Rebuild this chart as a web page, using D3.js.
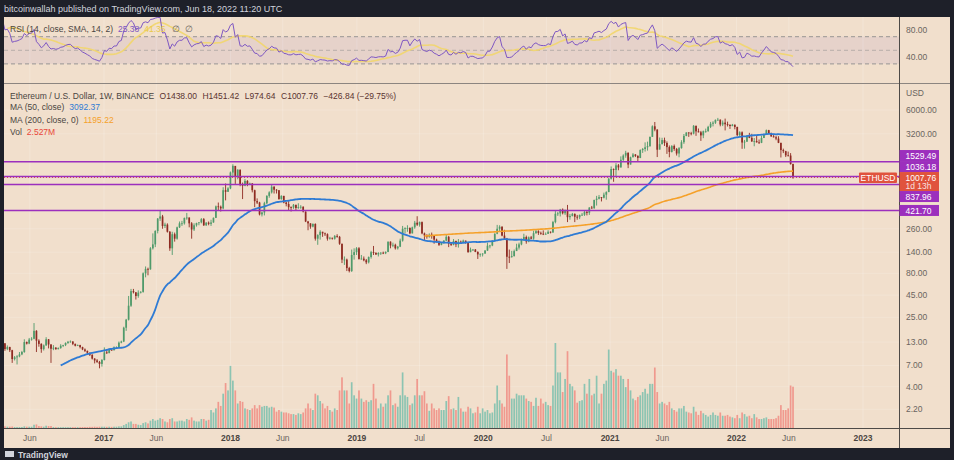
<!DOCTYPE html>
<html><head><meta charset="utf-8">
<script src="https://cdn.jsdelivr.net/npm/d3@7"></script>
<style>html,body{margin:0;padding:0;background:#1e2029;overflow:hidden}svg{display:block}</style>
</head><body>
<svg id="c" width="954" height="460"></svg>
<script>
// ---------- DATA (weekly bars, ETH/USD, weeks starting Monday 2015-09-21) ----------
const firstWeek = "2015-09-21";
const firstOpen = 0.90;
const closes = [
0.73,0.69,0.62,0.52,0.57,0.90,1.00,0.92,0.95,0.88,0.84,0.86,0.90,0.88,0.95,
0.95,1.25,1.60,2.40,2.60,5.00,4.50,6.80,10.00,11.50,12.60,10.80,11.40,10.50,8.30,8.70,8.90,9.40,10.00,13.00,12.50,13.90,14.20,17.50,13.50,12.40,10.80,11.90,14.00,12.20,10.90,11.20,10.80,11.10,11.80,12.00,12.70,13.10,13.20,12.40,11.80,12.00,11.40,10.70,10.30,9.80,9.30,8.40,8.00,7.70,7.30,8.10,
9.90,9.70,10.60,10.50,11.30,11.30,12.80,13.20,19.00,23.50,34.00,50.00,48.50,44.00,48.00,49.00,80.00,90.00,89.00,155,172,245,340,360,280,290,240,155,225,200,270,300,300,345,350,300,255,285,302,308,335,285,305,296,307,347,470,465,445,720,690,756,
1150,1370,1050,1240,830,810,920,840,860,720,540,520,380,400,510,620,680,790,730,720,570,620,520,500,460,455,490,450,460,465,410,315,300,275,295,200,220,240,230,225,200,205,200,215,210,175,115,115,92,85,130,140,155,
117,118,113,107,123,140,137,132,137,138,136,141,185,167,170,155,162,190,260,265,265,230,270,305,290,310,230,218,210,222,215,195,185,170,180,190,210,175,170,188,172,185,182,190,183,140,150,150,141,132,134,135,
146,166,167,189,228,260,274,217,200,124,123,126,144,158,172,197,209,186,207,200,231,244,233,228,227,227,240,236,310,386,390,432,392,428,353,365,385,357,352,375,377,406,396,455,448,557,575,600,590,640,685,975,
1260,1230,1390,1315,1610,1800,1935,1420,1720,1850,1785,1690,2080,2140,2240,2310,2950,3900,3580,2100,2430,2710,2510,2250,1980,2320,2140,1900,2190,2560,3020,3310,3240,3220,3950,3410,3330,3065,3420,3420,3840,4170,4290,4620,4640,4090,4300,4120,4060,3930,4070,3830,
3090,3330,2540,2600,3030,2870,2620,2640,2550,2520,2860,3140,3520,3260,2990,2920,2820,2520,2080,2020,1810,1800,1434.60,1007.76];
const highs = [
0.92,0.75,0.70,0.63,0.60,1.05,1.10,1.02,0.98,0.96,0.90,0.88,0.93,0.92,0.97,
0.98,1.30,1.65,2.50,2.80,5.60,5.20,7.00,11.00,13.50,15.00,12.60,11.90,11.50,10.60,9.00,9.20,10.00,10.30,14.00,13.20,14.50,14.80,21.50,17.80,14.00,12.60,12.20,14.80,14.10,12.30,12.00,11.40,11.30,12.30,12.10,12.90,13.40,13.60,13.30,12.50,12.20,12.10,11.50,11.00,10.40,9.90,9.40,8.50,8.30,7.90,8.30,
11.30,10.60,11.00,10.80,11.60,11.60,13.20,13.50,19.50,24.00,44.00,53.00,53.00,48.50,51.00,50.00,82.00,96.00,93.00,160,230,250,345,420,375,305,300,245,240,235,275,315,320,350,395,350,310,300,305,310,345,345,310,315,330,350,480,520,480,780,860,780,
1180,1430,1360,1250,1240,880,970,940,880,870,730,580,530,410,530,630,700,830,800,740,720,630,620,530,540,470,500,490,510,485,470,410,320,300,300,300,225,250,240,235,230,210,205,220,225,215,175,125,118,95,150,155,160,
160,130,125,117,125,145,165,140,140,140,142,143,185,186,180,175,165,200,280,270,285,270,275,320,362,315,315,235,225,230,235,215,200,190,182,192,225,215,182,198,190,198,190,195,190,183,158,152,152,143,135,136,
148,180,170,191,230,288,285,278,253,204,150,145,150,175,180,200,228,217,212,215,247,253,250,241,249,236,250,242,320,415,405,440,445,430,488,385,395,390,375,378,395,420,415,460,475,560,620,635,600,675,700,1000,
1350,1280,1475,1440,1760,1860,2040,1960,1750,1920,1870,1810,2120,2200,2550,2600,2970,4000,4370,3600,2900,2880,2890,2620,2350,2370,2410,2200,2250,2700,3180,3330,3335,3370,4030,3970,3680,3450,3480,3670,3950,4380,4460,4670,4870,4680,4550,4780,4410,4090,4150,4080,
3860,3420,3410,2720,3080,3280,3200,2860,3040,2750,3050,3200,3580,3550,3300,3190,3030,3000,2520,2160,2040,2000,1920,1451.42];
const lows = [
0.70,0.65,0.60,0.42,0.45,0.56,0.85,0.88,0.88,0.85,0.82,0.82,0.84,0.85,0.86,
0.92,0.94,1.20,1.55,2.20,2.55,3.90,4.40,6.50,9.20,10.60,10.30,10.50,10.00,7.50,8.00,7.20,8.70,9.20,9.80,12.20,12.30,13.50,14.00,10.00,11.50,9.80,10.40,11.80,11.00,7.50,10.50,10.60,10.70,10.90,11.40,11.70,12.40,12.80,12.00,11.60,11.70,11.00,10.50,10.00,9.30,9.00,8.20,7.40,7.50,6.50,6.80,
8.00,9.50,9.70,10.40,10.40,10.90,11.20,12.60,13.00,17.50,23.00,33.00,47.00,40.00,42.00,47.00,48.00,72.00,76.00,88.00,150,160,230,320,260,265,235,145,130,185,195,265,280,290,330,270,200,245,275,285,300,280,280,285,280,305,345,425,410,435,550,690,
740,1050,850,960,800,570,800,800,840,680,460,500,370,360,370,500,590,660,660,660,560,560,510,470,420,410,440,420,440,440,400,310,250,260,270,190,170,195,210,215,190,195,195,195,205,170,105,100,85,82,83,115,130,
115,115,110,102,104,118,130,130,125,130,133,133,140,155,160,150,150,160,185,230,240,225,230,260,280,275,225,190,200,205,200,175,180,165,168,175,188,160,165,168,160,158,178,180,175,138,140,145,140,117,124,125,
134,145,155,164,186,225,245,213,198,90,105,121,125,145,150,168,190,175,182,197,195,228,221,222,220,224,227,230,233,300,365,360,380,375,310,330,360,310,330,335,365,365,370,375,440,440,480,565,535,580,560,685,
955,900,1050,1220,1310,1560,1700,1290,1420,1720,1730,1550,1680,1930,2000,2050,2270,2950,3420,1730,2150,2420,2320,1880,1720,1950,2040,1800,1720,2160,2450,3000,2950,3070,3150,3030,3320,2650,2850,3290,3390,3720,3890,4150,4520,3900,3920,3500,3880,3640,3900,3600,
2990,3000,2150,2160,2580,2850,2580,2300,2540,2450,2500,2880,3140,3170,2950,2900,2700,2500,1710,1920,1730,1760,1420,974.64];
const volumes = [ // millions
0.02,0.02,0.02,0.03,0.03,0.05,0.05,0.03,0.02,0.02,0.02,0.02,0.02,0.02,0.02,
0.02,0.03,0.04,0.05,0.05,0.08,0.07,0.08,0.12,0.15,0.16,0.10,0.08,0.08,0.09,0.06,0.06,0.06,0.06,0.10,0.08,0.08,0.08,0.20,0.22,0.12,0.10,0.08,0.14,0.12,0.12,0.06,0.05,0.05,0.05,0.05,0.05,0.05,0.05,0.05,0.05,0.05,0.05,0.06,0.06,0.06,0.07,0.07,0.08,0.07,0.08,0.08,
0.08,0.07,0.08,0.07,0.08,0.08,0.10,0.10,0.18,0.25,0.35,0.40,0.25,0.25,0.20,0.18,0.30,0.35,0.28,0.45,0.55,0.45,0.50,0.60,0.55,0.40,0.35,0.55,0.60,0.40,0.40,0.45,0.45,0.40,0.55,0.50,0.65,0.45,0.40,0.40,0.55,0.55,0.45,0.50,1.10,0.95,1.20,1.60,1.35,2.10,2.75,2.30,
3.80,2.90,2.30,1.50,1.65,1.60,1.20,1.15,1.10,1.20,1.40,1.20,1.40,1.30,1.35,1.35,1.25,1.30,1.25,1.00,1.10,1.00,0.95,0.95,0.90,0.85,0.85,0.80,0.90,0.85,0.95,1.20,1.50,1.20,1.10,2.10,2.00,1.65,1.50,1.20,1.35,1.10,1.00,1.20,1.10,2.30,3.10,2.30,2.30,1.50,2.80,2.00,1.80,
2.30,1.80,1.60,1.70,1.60,1.70,2.70,1.80,1.20,1.50,1.30,1.50,2.00,2.30,1.40,1.50,1.30,2.00,3.40,2.00,1.90,1.40,1.50,2.00,3.00,2.00,2.00,2.25,1.50,1.05,1.50,1.20,1.10,1.20,1.10,1.10,1.65,1.95,1.15,1.20,1.10,1.90,1.20,1.00,1.00,1.30,1.20,0.90,0.95,1.30,0.90,1.20,
1.00,1.10,0.90,0.95,1.50,2.60,1.70,1.50,1.30,4.50,3.20,1.80,1.80,2.10,2.00,2.00,2.00,1.80,1.65,1.60,1.35,1.85,1.35,1.80,1.50,1.60,1.40,1.35,2.60,5.20,3.40,3.40,2.20,3.00,4.70,2.70,2.55,2.30,1.55,1.65,1.70,2.70,2.10,3.00,2.00,2.10,3.20,1.50,2.10,2.70,2.90,4.80,
3.50,3.40,3.60,3.20,3.20,3.00,2.50,3.00,2.30,1.80,1.70,1.90,2.00,2.20,2.40,2.10,2.70,2.70,3.70,2.20,1.50,1.60,1.50,1.40,1.60,1.20,1.10,1.00,1.20,1.20,1.35,1.00,0.95,0.90,1.30,1.00,0.80,1.05,0.90,0.80,0.70,0.80,0.95,0.80,0.75,0.95,0.75,0.75,0.80,0.70,0.65,0.60,
0.80,0.60,0.95,0.85,0.70,0.75,0.60,0.85,0.65,0.55,0.55,0.60,0.65,0.55,0.55,0.55,0.60,0.75,1.40,1.10,1.10,1.20,2.60,2.527];

const lastBar = [1438.00, 1451.42, 974.64, 1007.76];   // O H L C shown in legend
const maLegend = [3092.37, 1195.22];
const volLegend = "2.527M";
const rsiLegend = 25.38;
const countdown = "1d 13h";
const levels = [1529.49, 1036.18, 837.96, 421.70];
const priceTicks = [6000, 3200, 260, 140, 80, 45, 25, 13, 7, 4, 2.2];
const rsiTicks = [80, 40];
const rsiBands = [70, 50, 30];
const xTickDates = ["2016-06-01","2017-01-01","2017-06-01","2018-01-01","2018-06-01","2019-01-01","2019-07-01","2020-01-01","2020-07-01","2021-01-01","2021-06-01","2022-01-01","2022-06-01","2023-01-01"];
const xTickLabels = ["Jun","2017","Jun","2018","Jun","2019","Jul","2020","Jul","2021","Jun","2022","Jun","2023"];

// ---------- LAYOUT ----------
const W = 954, H = 460;
const L = 4, R = 899, RSI_T = 17, RSI_B = 83.5, MAIN_T = 84, MAIN_B = 428;
const BG = "#f1dfcc", DARK = "#1e2029";
const UP = "#4f9a6a", DOWN = "#8e2b22";
const PURPLE = "#9c2fbd", RED = "#e0533d", BLUE = "#2f7bd4", ORANGE = "#f5a12a";
const FONT = "'Liberation Sans', Arial, sans-serif";

const svg = d3.select("#c");
svg.append("rect").attr("width", W).attr("height", H).attr("fill", DARK);
svg.append("rect").attr("x", L).attr("y", RSI_T).attr("width", 950 - L).attr("height", 448 - RSI_T).attr("fill", BG);

const defs = svg.append("defs");
defs.append("clipPath").attr("id", "clipMain").append("rect").attr("x", L).attr("y", MAIN_T).attr("width", R - L).attr("height", MAIN_B - MAIN_T);
defs.append("clipPath").attr("id", "clipRsi").append("rect").attr("x", L).attr("y", RSI_T).attr("width", R - L).attr("height", RSI_B - RSI_T);

const parse = d3.utcParse("%Y-%m-%d");
const start = parse(firstWeek);
const bars = closes.map((c, i) => ({
  d: d3.utcDay.offset(start, 7 * i),
  o: i === 0 ? firstOpen : (i === closes.length - 1 ? lastBar[0] : closes[i - 1]),
  h: highs[i], l: lows[i], c, v: volumes[i]
}));

const x = d3.scaleUtc().domain([parse("2017-01-01"), parse("2023-01-01")]).range([104, 863]);
const y = d3.scaleLog().domain([2.2, 6000]).range([409.3, 110]);
const yr = d3.scaleLinear().domain([0, 100]).range([84.3, 16.3]);
const yv = d3.scaleLinear().domain([0, d3.max(volumes)]).range([MAIN_B, 343]);

// ---------- grid ----------
const grid = svg.append("g");
xTickDates.forEach(s => {
  const gx = x(parse(s));
  grid.append("line").attr("x1", gx).attr("x2", gx).attr("y1", RSI_T).attr("y2", MAIN_B)
    .attr("stroke", "#ffffff").attr("stroke-opacity", 0.2);
});
priceTicks.forEach(v => {
  grid.append("line").attr("x1", L).attr("x2", R).attr("y1", y(v)).attr("y2", y(v))
    .attr("stroke", "#ffffff").attr("stroke-opacity", 0.16);
});

// ---------- RSI panel ----------
function rsiCalc(vals, n) {
  const out = new Array(vals.length).fill(null);
  let g = 0, l = 0;
  for (let i = 1; i <= n; i++) { const d = vals[i] - vals[i - 1]; if (d > 0) g += d; else l -= d; }
  g /= n; l /= n;
  out[n] = l === 0 ? 100 : 100 - 100 / (1 + g / l);
  for (let i = n + 1; i < vals.length; i++) {
    const d = vals[i] - vals[i - 1];
    g = (g * (n - 1) + Math.max(d, 0)) / n;
    l = (l * (n - 1) + Math.max(-d, 0)) / n;
    out[i] = l === 0 ? 100 : 100 - 100 / (1 + g / l);
  }
  return out;
}
function sma(vals, n) {
  return vals.map((v, i) => {
    if (i < n - 1) return null;
    const w = vals.slice(i - n + 1, i + 1);
    if (w.some(z => z === null)) return null;
    return d3.mean(w);
  });
}
const rsi = rsiCalc(closes, 14);
const rsiMa = sma(rsi, 14);

const rg = svg.append("g").attr("clip-path", "url(#clipRsi)");
rg.append("rect").attr("x", L).attr("width", R - L).attr("y", yr(70)).attr("height", yr(30) - yr(70))
  .attr("fill", "#7e57c2").attr("fill-opacity", 0.09);
rsiBands.forEach(b => rg.append("line").attr("x1", L).attr("x2", R).attr("y1", yr(b)).attr("y2", yr(b))
  .attr("stroke", "#8a8a8a").attr("stroke-opacity", b === 50 ? 0.5 : 0.85).attr("stroke-dasharray", "4,3"));
const rline = d3.line().defined(d => d.v !== null).x(d => x(d.d)).y(d => yr(d.v));
rg.append("path").datum(bars.map((b, i) => ({ d: b.d, v: rsiMa[i] }))).attr("d", rline)
  .attr("fill", "none").attr("stroke", "#f2d66b").attr("stroke-width", 1.6).attr("stroke-opacity", 0.9);
rg.append("path").datum(bars.map((b, i) => ({ d: b.d, v: rsi[i] }))).attr("d", rline)
  .attr("fill", "none").attr("stroke", "#7e57c2").attr("stroke-width", 1);

// ---------- main panel ----------
const mg = svg.append("g").attr("clip-path", "url(#clipMain)");
const bw = 1.7;
mg.append("g").selectAll("rect").data(bars).join("rect")
  .attr("x", d => x(d.d) - bw / 2).attr("width", bw)
  .attr("y", d => yv(d.v)).attr("height", d => MAIN_B - yv(d.v))
  .attr("fill", d => d.c >= d.o ? "#8cc4b2" : "#f0998e");

const cg = mg.append("g");
cg.selectAll("line").data(bars).join("line")
  .attr("x1", d => x(d.d)).attr("x2", d => x(d.d))
  .attr("y1", d => y(d.h)).attr("y2", d => y(d.l))
  .attr("stroke", d => d.c >= d.o ? UP : DOWN).attr("stroke-width", 0.9);
cg.selectAll("rect").data(bars).join("rect")
  .attr("x", d => x(d.d) - bw / 2).attr("width", bw)
  .attr("y", d => y(Math.max(d.o, d.c)))
  .attr("height", d => Math.max(0.8, y(Math.min(d.o, d.c)) - y(Math.max(d.o, d.c))))
  .attr("fill", d => d.c >= d.o ? UP : DOWN);

const ma50 = sma(closes, 50), ma200 = sma(closes, 200);
const pline = d3.line().defined(d => d.v !== null).x(d => x(d.d)).y(d => y(d.v)).curve(d3.curveMonotoneX);
mg.append("path").datum(bars.map((b, i) => ({ d: b.d, v: ma200[i] }))).attr("d", pline)
  .attr("fill", "none").attr("stroke", ORANGE).attr("stroke-width", 1.6);
mg.append("path").datum(bars.map((b, i) => ({ d: b.d, v: ma50[i] }))).attr("d", pline)
  .attr("fill", "none").attr("stroke", BLUE).attr("stroke-width", 1.8);

// horizontal levels
const lastClose = closes[closes.length - 1];
mg.append("line").attr("x1", L).attr("x2", R).attr("y1", y(lastClose)).attr("y2", y(lastClose))
  .attr("stroke", RED).attr("stroke-width", 1).attr("stroke-dasharray", "1,2");
levels.forEach(v => mg.append("line").attr("x1", L).attr("x2", R).attr("y1", y(v)).attr("y2", y(v))
  .attr("stroke", PURPLE).attr("stroke-width", 1.5));

// ---------- frames ----------
svg.append("line").attr("x1", L).attr("x2", 950).attr("y1", RSI_B).attr("y2", RSI_B).attr("stroke", "#8c8580").attr("stroke-width", 1);
svg.append("line").attr("x1", L).attr("x2", 950).attr("y1", MAIN_B + 0.5).attr("y2", MAIN_B + 0.5).attr("stroke", "#4d4a47").attr("stroke-width", 1);
svg.append("line").attr("x1", R + 0.5).attr("x2", R + 0.5).attr("y1", RSI_T).attr("y2", 448).attr("stroke", "#4d4a47").attr("stroke-width", 1);

// ---------- right axis labels ----------
const fmt2 = d3.format(".2f");
const ax = svg.append("g").attr("font-family", FONT).attr("font-size", 8.5).attr("fill", "#6b6560");
priceTicks.forEach(v => ax.append("text").attr("x", 906).attr("y", y(v)).attr("dy", "0.35em").text(fmt2(v)));
rsiTicks.forEach(v => ax.append("text").attr("x", 906).attr("y", yr(v)).attr("dy", "0.35em").text(fmt2(v)));
ax.append("text").attr("x", 906).attr("y", 93.3).attr("dy", "0.35em").text("USD");

// price tags with stacking
const tags = levels.map(v => ({ v, lines: [fmt2(v)], fill: PURPLE }))
  .concat([{ v: lastClose, lines: [fmt2(lastClose), countdown], fill: RED }])
  .map(t => ({ ...t, h: t.lines.length > 1 ? 19 : 11, d: y(t.v) }))
  .sort((a, b) => a.d - b.d);
function place(b) { let off = 0; const arr = b.items.map(t => { const o = off + t.h / 2; off += t.h; return t.d - o; }); b.top = d3.mean(arr); b.h = off; }
let blocks = tags.map(t => ({ items: [t] })); blocks.forEach(place);
let merged = true;
while (merged) {
  merged = false;
  for (let i = 0; i < blocks.length - 1; i++) {
    const a = blocks[i], b = blocks[i + 1];
    if (a.top + a.h > b.top) { a.items = a.items.concat(b.items); place(a); blocks.splice(i + 1, 1); merged = true; break; }
  }
}
const tg = svg.append("g").attr("font-family", FONT).attr("font-size", 8.5);
blocks.forEach(b => {
  let top = b.top;
  b.items.forEach(t => {
    tg.append("rect").attr("x", R + 0.5).attr("y", top).attr("width", 39.5).attr("height", t.h).attr("fill", t.fill);
    t.lines.forEach((s, k) => tg.append("text").attr("x", 905.5).attr("y", top + 5.6 + k * 8.6).attr("dy", "0.35em")
      .attr("fill", "#ffffff").attr("fill-opacity", k ? 0.85 : 1).text(s));
    top += t.h;
  });
});
// symbol label on the price line
tg.append("rect").attr("x", 859).attr("y", y(lastClose) - 5).attr("width", 38).attr("height", 10.5).attr("rx", 1).attr("fill", RED);
tg.append("text").attr("x", 878).attr("y", y(lastClose) + 0.3).attr("dy", "0.35em").attr("text-anchor", "middle")
  .attr("fill", "#ffffff").text("ETHUSD");

// ---------- x axis ----------
const xg = svg.append("g").attr("font-family", FONT).attr("font-size", 8.5).attr("text-anchor", "middle");
xTickDates.forEach((s, i) => {
  const isYear = /^\d{4}$/.test(xTickLabels[i]);
  xg.append("text").attr("x", x(parse(s))).attr("y", 438.3).attr("dy", "0.35em")
    .attr("font-weight", isYear ? "bold" : "normal").attr("fill", isYear ? "#4a4541" : "#6b6560")
    .text(xTickLabels[i]);
});

// ---------- legends ----------
const lg = svg.append("g").attr("font-family", FONT).attr("font-size", 8.5);
const t1 = lg.append("text").attr("x", 10).attr("y", 95.7).attr("dy", "0.35em").attr("fill", "#4a4541");
t1.append("tspan").text("Ethereum / U.S. Dollar, 1W, BINANCE");
const prevClose = closes[closes.length - 2];
const chg = lastBar[3] - prevClose;
const minus = s => s.replace("-", "\u2212");
[["O", lastBar[0]], ["H", lastBar[1]], ["L", lastBar[2]], ["C", lastBar[3]]].forEach(([k, v]) =>
  t1.append("tspan").attr("dx", 5.5).attr("fill", "#5a3330").text(k + fmt2(v)));
t1.append("tspan").attr("dx", 5.5).attr("fill", "#5a3330")
  .text(minus(fmt2(chg)) + " (" + minus(fmt2(chg / prevClose * 100)) + "%)");

const rows = [["MA (50, close)", fmt2(maLegend[0]), BLUE, 107.3], ["MA (200, close, 0)", fmt2(maLegend[1]), ORANGE, 120], ["Vol", volLegend, "#e8473a", 132.3]];
rows.forEach(([lab, val, col, yy]) => {
  const t = lg.append("text").attr("x", 10).attr("y", yy).attr("dy", "0.35em").attr("fill", "#4a4541");
  t.append("tspan").text(lab);
  t.append("tspan").attr("dx", 5).attr("fill", col).text(val);
});
const tr = lg.append("text").attr("x", 10).attr("y", 28.7).attr("dy", "0.35em").attr("fill", "#4a4541");
tr.append("tspan").text("RSI (14, close, SMA, 14, 2)");
tr.append("tspan").attr("dx", 5).attr("fill", "#7e57c2").text(fmt2(rsiLegend));
tr.append("tspan").attr("dx", 5).attr("fill", "#e9c94a").text(fmt2(rsiMa[rsiMa.length - 1]));
tr.append("tspan").attr("dx", 6).attr("fill", "#6b6560").text("\u2205");
tr.append("tspan").attr("dx", 5).attr("fill", "#6b6560").text("\u2205");

// ---------- header / footer ----------
svg.append("text").attr("x", 4).attr("y", 9).attr("dy", "0.35em").attr("font-family", FONT).attr("font-size", 9)
  .attr("fill", "#d1d4dc").text("bitcoinwallah published on TradingView.com, Jun 18, 2022 11:20 UTC");
svg.append("rect").attr("x", 5).attr("y", 451).attr("width", 9).attr("height", 6).attr("fill", "#d1d4dc");
svg.append("text").attr("x", 18).attr("y", 457.5).attr("font-family", FONT).attr("font-size", 8.5).attr("font-weight", "bold")
  .attr("fill", "#d1d4dc").text("TradingView");
</script>
</body></html>
